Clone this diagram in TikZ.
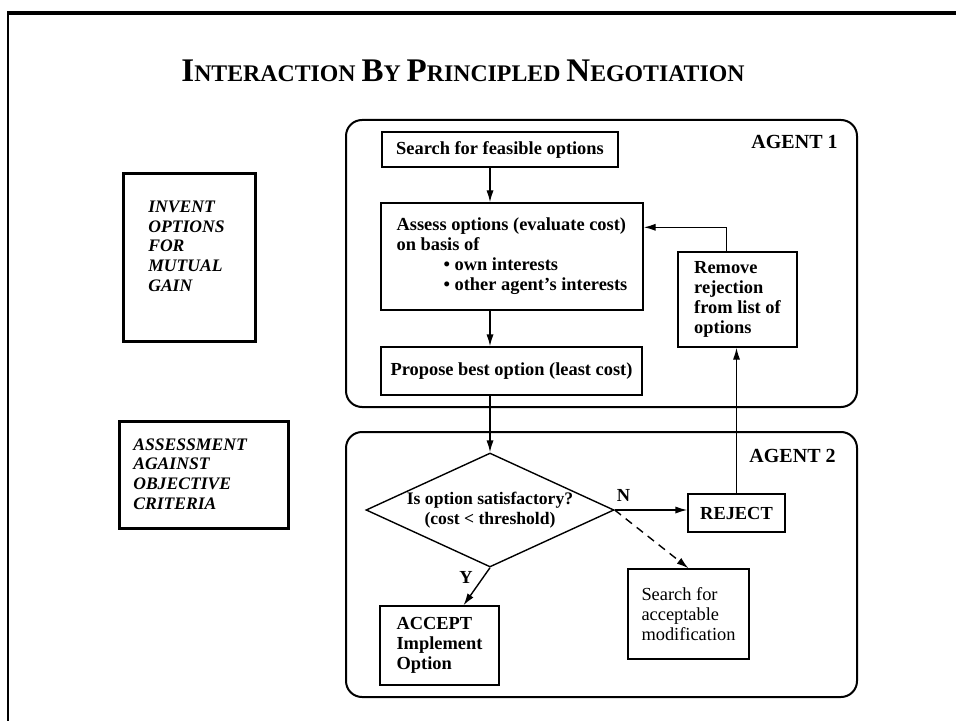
\documentclass[tikz,border=0pt]{standalone}
\usepackage{fontspec}
\setmainfont{Liberation Serif}
\usepackage{tikz}
\usetikzlibrary{arrows.meta,positioning,calc,shapes.geometric}
\newcommand{\flowfont}{\fontsize{9.2}{10}\selectfont\bfseries}
\newcommand{\sidefont}{\fontsize{8.8}{9.8}\selectfont\bfseries\itshape}
\newcommand{\titlecap}[1]{{\fontsize{16.5}{18}\selectfont #1}}
\tikzset{
  flowbox/.style={draw, line width=0.7pt, align=left, inner sep=3pt,
    font=\flowfont},
  modbox/.style={flowbox, font=\fontsize{9.2}{10}\selectfont},
  sidebox/.style={draw, line width=1.3pt, align=left, anchor=north west,
    font=\sidefont},
  agentbox/.style={draw, line width=1pt, rounded corners=8pt},
  agentlabel/.style={anchor=north east, inner sep=0pt,
    font=\fontsize{10}{12}\selectfont\bfseries},
  decision/.style={diamond, draw, line width=0.7pt, inner sep=-2pt,
    aspect=2.2, align=center, font=\fontsize{8.8}{10}\selectfont\bfseries},
  flowlabel/.style={font=\flowfont, inner sep=1pt},
  arrow/.style={-{Latex[length=6pt,width=3.6pt]}, line width=0.7pt},
  dasharrow/.style={arrow, dash pattern=on 4pt off 3pt}
}
\begin{document}
\begin{tikzpicture}[x=0.5pt, y=-0.5pt]
  \useasboundingbox (0,0) rectangle (956,721);
  % page frame
  \draw[line width=1pt] (8,721) -- (8,13);
  \draw[line width=2pt] (7,13) -- (956,13);
  \node[anchor=base, font=\fontsize{11.9}{14}\selectfont\bfseries] (title) at (463,82)
    {\titlecap{I}NTERACTION \titlecap{B}Y \titlecap{P}RINCIPLED \titlecap{N}EGOTIATION};
  % phases
  \node[sidebox, text width=41pt, inner xsep=12.5pt, inner ysep=10pt,
    text height=9.75pt, text depth=54.25pt] (invent) at (122,172)
    {INVENT\\OPTIONS\\FOR\\MUTUAL\\GAIN};
  \node[sidebox, text width=70.5pt, inner xsep=7pt, inner ysep=6pt,
    text height=8.5pt, text depth=33pt] (assessment) at (118,420)
    {ASSESSMENT\\AGAINST\\OBJECTIVE\\CRITERIA};
  % agents
  \node[agentbox, minimum width=255.5pt, minimum height=143.5pt] (agentone) at (601.5,263.5) {};
  \node[agentbox, minimum width=255.5pt, minimum height=132.5pt] (agenttwo) at (601.5,564.5) {};
  \node[agentlabel] (agentonelbl) at ([xshift=-10pt,yshift=-8pt]agentone.north east) {AGENT 1};
  \node[agentlabel] (agenttwolbl) at ([xshift=-11pt,yshift=-9pt]agenttwo.north east) {AGENT 2};
  % agent 1
  \node[flowbox, minimum width=118pt, minimum height=17.5pt] (search) at (500,149.5)
    {Search for feasible options};
  \node[flowbox, minimum width=131pt, minimum height=53.5pt] (assess) at (512,256.5)
    {Assess options (evaluate cost)\\on basis of\\
     \hspace*{23.5pt}\textbullet{} own interests\\
     \hspace*{23.5pt}\textbullet{} other agent's interests};
  \node[flowbox, minimum width=130.5pt, minimum height=24pt] (propose) at (511.5,371)
    {Propose best option (least cost)};
  \node[flowbox, minimum width=59.5pt, minimum height=47.5pt] (remove) at (737.5,299.5)
    {Remove\\rejection\\from list of\\options};
  % agent 2
  \node[decision, minimum width=124pt, minimum height=57pt] (dec) at (490,510)
    {Is option satisfactory?\\(cost < threshold)};
  \node[flowbox, minimum width=48.5pt, minimum height=19pt] (reject) at (736.5,513) {REJECT};
  \node[modbox, minimum width=60.5pt, minimum height=45pt] (srchmod) at (688.5,614)
    {Search for\\acceptable\\modification};
  \node[flowbox, minimum width=59.5pt, minimum height=39.5pt] (accept) at (439.5,645.5)
    {ACCEPT\\Implement\\Option};
  % connectors
  \draw[arrow] (search.south -| dec.north) -- (assess.north -| dec.north);
  \draw[arrow] (assess.south -| dec.north) -- (propose.north -| dec.north);
  \draw[arrow] (propose.south -| dec.north) -- (dec.north);
  \draw[arrow] (dec.east) -- (dec.east -| reject.west)
    node[flowlabel, pos=0.12, above=3pt] (nlbl) {N};
  \draw[arrow] (reject.north) -- (reject.north |- remove.south);
  \draw[arrow] ([xshift=-5.5pt]remove.north) |- ([yshift=-12.5pt]assess.north east);
  \draw[arrow] (dec.south) -- ([xshift=12pt]accept.north)
    node[flowlabel, pos=0.25, left=4pt] (ylbl) {Y};
  \draw[dasharrow] (dec.east) -- (srchmod.north);
\end{tikzpicture}
\end{document}
